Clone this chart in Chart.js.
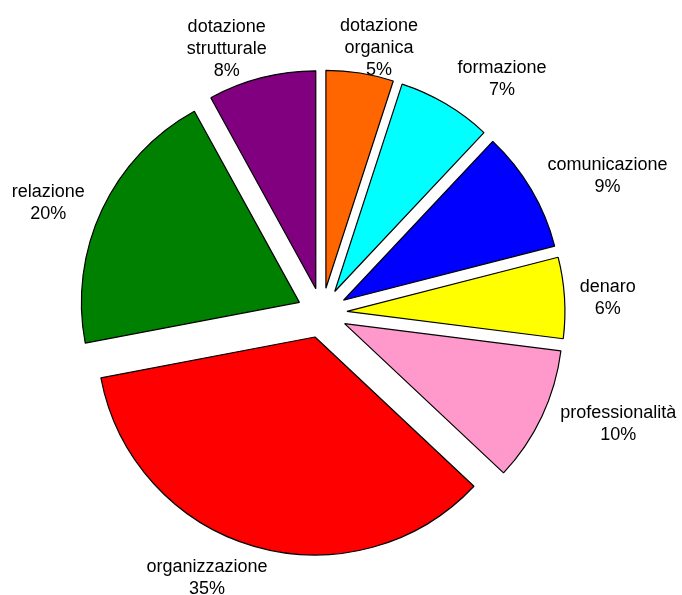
<!DOCTYPE html>
<html>
<head>
<meta charset="utf-8">
<script src="https://cdn.jsdelivr.net/npm/chart.js@4/dist/chart.umd.min.js"></script>
<style>
  html, body { margin: 0; padding: 0; background: #fff; }
  #wrap { width: 682px; height: 595px; }
</style>
</head>
<body>
<div id="wrap"><canvas id="torta" width="682" height="595"></canvas></div>
<script>
// dati della torta, in senso orario dalle ore 12
const categorie = ['dotazione organica', 'formazione', 'comunicazione', 'denaro',
    'professionalità', 'organizzazione', 'relazione', 'dotazione strutturale'];
const valori = [5, 7, 9, 6, 10, 35, 20, 8];
const colori = ['#FF6600', '#00FFFF', '#0000FF', '#FFFF00',
    '#FF99CC', '#FF0000', '#008000', '#800080'];

// righe delle etichette (nome spezzato come nell'originale)
const righeEtichette = [
    ['dotazione', 'organica'], ['formazione'], ['comunicazione'], ['denaro'],
    ['professionalità'], ['organizzazione'], ['relazione'], ['dotazione', 'strutturale']
];

// piccoli spostamenti delle etichette rispetto alla posizione calcolata (px)
const spostamenti = [[12, 19], [32, 16], [17, 22], [8, 3], [15, -21], [-35, -11], [-10, 14], [-23, 18]];

const ESPLOSO = 25; // distacco di ogni spicchio dal centro (px)
const FONT = '18px "Liberation Sans", Arial, sans-serif';
const LINE_H = 22;

// spicchi staccati: l'offset di chart.js cambia anche il raggio, quindi
// si sposta il centro di ogni arco lungo la sua bisettrice
const esplodiPlugin = {
    id: 'esplodi',
    afterDatasetUpdate(chart, args) {
        args.meta.data.forEach(arc => {
            const mid = (arc.startAngle + arc.endAngle) / 2;
            arc.x += Math.cos(mid) * ESPLOSO;
            arc.y += Math.sin(mid) * ESPLOSO;
        });
    }
};

// etichette esterne, posizionate lungo la bisettrice di ogni spicchio
const etichettePlugin = {
    id: 'etichette',
    afterDatasetsDraw(chart) {
        const ctx = chart.ctx;
        const meta = chart.getDatasetMeta(0);
        const total = valori.reduce((a, b) => a + b, 0);
        ctx.save();
        ctx.font = FONT;
        ctx.fillStyle = '#000';
        ctx.textAlign = 'center';
        ctx.textBaseline = 'middle';
        meta.data.forEach((arc, i) => {
            const mid = (arc.startAngle + arc.endAngle) / 2;
            const c = Math.cos(mid), s = Math.sin(mid);
            const lines = righeEtichette[i].concat([Math.round(valori[i] / total * 100) + '%']);
            const w = Math.max(...lines.map(t => ctx.measureText(t).width));
            const h = lines.length * LINE_H;
            const gap = 6;
            const d = arc.outerRadius + gap + Math.abs(c) * w / 2 + Math.abs(s) * h / 2;
            const cx = arc.x + c * d + spostamenti[i][0];
            const cy = arc.y + s * d + spostamenti[i][1];
            lines.forEach((t, k) => {
                ctx.fillText(t, cx, cy - h / 2 + LINE_H * (k + 0.5));
            });
        });
        ctx.restore();
    }
};

new Chart(document.getElementById('torta').getContext('2d'), {
    type: 'pie',
    data: {
        labels: categorie,
        datasets: [{
            data: valori,
            backgroundColor: colori,
            borderColor: '#000',
            borderWidth: 1.2
        }]
    },
    options: {
        responsive: false,
        animation: false,
        events: [],
        radius: 218,
        layout: { padding: { left: 0, right: 38, top: 31, bottom: 0 } },
        plugins: {
            legend: { display: false },
            tooltip: { enabled: false }
        }
    },
    plugins: [esplodiPlugin, etichettePlugin]
});
</script>
</body>
</html>
